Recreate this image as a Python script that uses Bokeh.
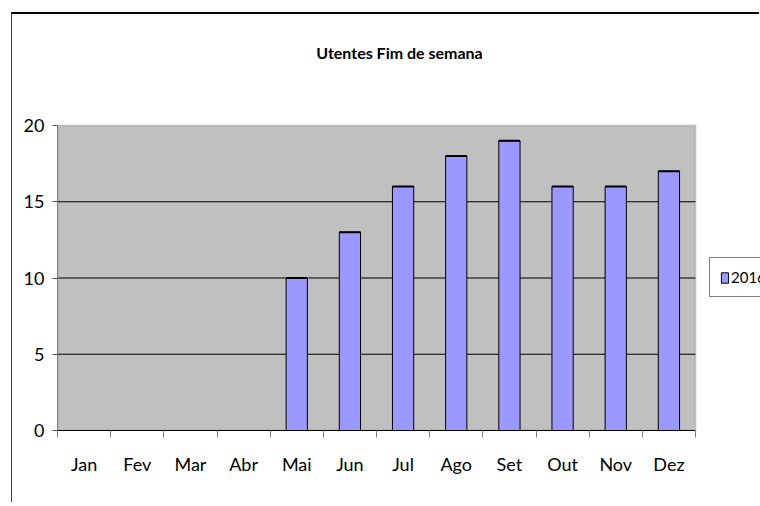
from bokeh.plotting import figure
from bokeh.models import (FixedTicker, Legend, LegendItem, ColumnDataSource, BoxAnnotation,
                          Label, CDSView, BooleanFilter)
from bokeh.embed import file_html
from bokeh.resources import INLINE

# ---- data ----
months = ["Jan", "Fev", "Mar", "Abr", "Mai", "Jun", "Jul", "Ago", "Set", "Out", "Nov", "Dez"]
utentes_2016 = [0, 0, 0, 0, 10, 13, 16, 18, 19, 16, 16, 17]
series_name = "2016"
title_text = "Utentes Fim de semana"
y_ticks = [0, 5, 10, 15, 20]

FONT = "Lato"
BAR_W = 0.4

# ---- geometry (pixels) ----
CANVAS_W, CANVAS_H = 748, 490
LEFT, BOTTOM = 45, 74
AREA_W, AREA_H = 638, 305          # grey plot area
FRAME_W = CANVAS_W - LEFT
FRAME_H = CANVAS_H - BOTTOM

n = len(months)
y_max = y_ticks[-1]
x_end = n * FRAME_W / AREA_W
y_end = y_max * FRAME_H / AREA_H

centers = [i + 0.5 for i in range(n)]
bounds = list(range(n + 1))
src = ColumnDataSource(dict(
    x=centers, top=utentes_2016,
    x0=[c - BAR_W / 2 for c in centers], x1=[c + BAR_W / 2 for c in centers],
))
nonzero = CDSView(filter=BooleanFilter([v > 0 for v in utentes_2016]))
grid_vals = y_ticks[1:-1]
grid_src = ColumnDataSource(dict(y=grid_vals, x0=[0] * len(grid_vals), x1=[n] * len(grid_vals)))

p = figure(
    width=CANVAS_W, height=CANVAS_H,
    x_range=(0, x_end), y_range=(0, y_end),
    output_backend="svg", toolbar_location=None,
    min_border_left=LEFT, min_border_right=0, min_border_top=0, min_border_bottom=BOTTOM,
    background_fill_color="white", border_fill_color="white",
    outline_line_color=None,
    styles={"margin-left": "11px", "margin-top": "12px",
            "border-left": "1px solid #404040", "border-top": "2px solid black"},
)
p.xgrid.grid_line_color = None
p.ygrid.grid_line_color = None

# grey plot area with grey border
p.add_layout(BoxAnnotation(left=0, right=n, bottom=0, top=y_max, level="underlay",
                           fill_color="#C0C0C0", fill_alpha=1,
                           line_color="#808080", line_width=2))

# gridlines
p.segment(x0="x0", x1="x1", y0="y", y1="y", source=grid_src, line_color="black", line_width=1)

bars = p.vbar(x="x", top="top", bottom=0, width=BAR_W, source=src, view=nonzero,
              fill_color="#9999FF", line_color="black", line_width=1)
p.segment(x0="x0", x1="x1", y0="top", y1="top", source=src, view=nonzero,
          line_color="black", line_width=2)

# y axis
p.yaxis.ticker = FixedTicker(ticks=y_ticks, minor_ticks=[])
p.yaxis.bounds = (0, y_max)
p.yaxis.axis_line_color = "#808080"
p.yaxis.major_tick_line_color = "#505050"
p.yaxis.major_tick_out = 5
p.yaxis.major_tick_in = 0
p.yaxis.major_label_standoff = 8
p.yaxis.major_label_text_font = FONT
p.yaxis.major_label_text_font_size = "18px"
p.yaxis.major_label_text_color = "black"

# x axis
p.xaxis.ticker = FixedTicker(ticks=centers, minor_ticks=bounds)
p.xaxis.bounds = (0, n)
p.xaxis.major_label_overrides = {c: m for c, m in zip(centers, months)}
p.xaxis.major_tick_line_color = None
p.xaxis.major_tick_out = 0
p.xaxis.major_tick_in = 0
p.xaxis.minor_tick_line_color = "#808080"
p.xaxis.minor_tick_out = 7
p.xaxis.minor_tick_in = 0
p.xaxis.axis_line_color = "black"
p.xaxis.major_label_standoff = 15
p.xaxis.major_label_text_font = FONT
p.xaxis.major_label_text_font_size = "18px"
p.xaxis.major_label_text_color = "black"

# title
p.add_layout(Label(x=n * 0.536, y=y_max * 1.24, text=title_text,
                   text_align="center", text_baseline="middle",
                   text_font=FONT, text_font_size="16px", text_font_style="bold",
                   text_color="black"))

# legend
legend = Legend(items=[LegendItem(label=series_name, renderers=[bars])],
                location=(652, 133), border_line_color="black", border_line_width=1,
                background_fill_color="white", background_fill_alpha=1,
                padding=10, margin=0, spacing=0,
                glyph_width=9, glyph_height=13, label_standoff=2,
                label_text_font=FONT, label_text_font_size="15px",
                label_text_color="black")
p.add_layout(legend, "center")

open("out.html", "w").write(file_html(p, INLINE))
